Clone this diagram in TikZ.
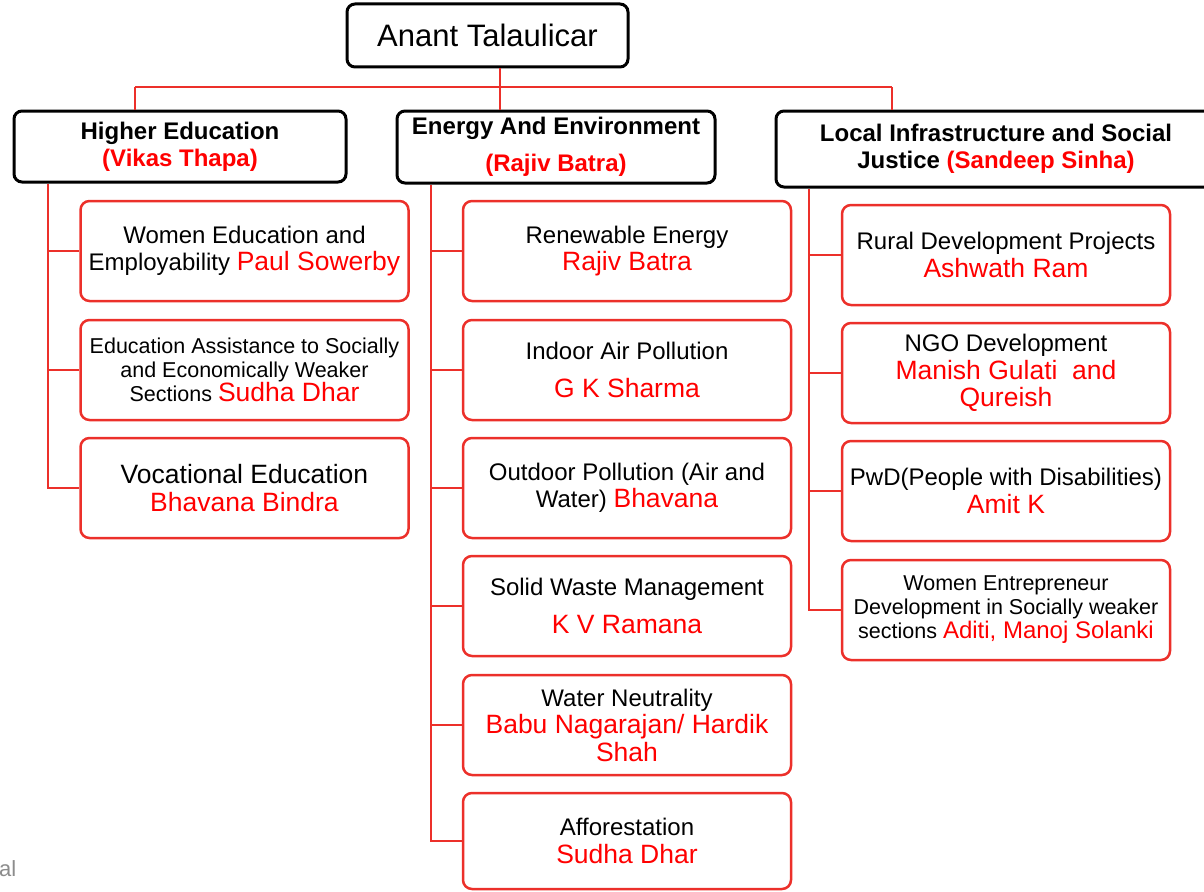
\documentclass[tikz,border=0pt]{standalone}
\usepackage{fontspec}
\setmainfont{Liberation Sans}
\definecolor{lred}{RGB}{236,48,42}
\definecolor{tred}{RGB}{255,0,0}
\definecolor{cutgray}{RGB}{140,140,140}
\newcommand{\nm}{\color{tred}\fontsize{26.5}{27.5}\selectfont}
\newcommand{\nms}{\color{tred}\fontsize{24}{24}\selectfont}
\begin{document}
\begin{tikzpicture}[x=1pt,y=-1pt,
  child/.style={draw=lred, line width=2.5pt, rounded corners=9pt, minimum width=328pt, minimum height=100pt, align=center, inner sep=0pt, font=\fontsize{24}{27.5}\selectfont},
  smallchild/.style={child, font=\fontsize{21.5}{24}\selectfont},
  head/.style={draw=black, line width=3pt, rounded corners=8pt, align=center, inner sep=0pt, font=\bfseries\fontsize{24}{27}\selectfont},
  link/.style={draw=lred, line width=2.5pt},
  toplink/.style={draw=lred, line width=2pt}]
\clip (0,0) rectangle (1204,891);
% top level
\node[head, font=\fontsize{31}{31}\selectfont, minimum width=281pt, minimum height=63pt] (top) at (487.5,35.5) {Anant Talaulicar};
\node[head, minimum width=332pt, minimum height=71pt] (he) at (180,146.5) {Higher Education\\{\color{tred}(Vikas Thapa)}};
\node[head, minimum width=318pt, minimum height=72pt] (ee) at (556,147) {Energy And Environment\\[10pt]{\color{tred}(Rajiv Batra)}};
\node[head, minimum width=440pt, minimum height=76pt] (li) at (996,149) {Local Infrastructure and Social\\Justice {\color{tred}(Sandeep Sinha)}};
% connectors top
\coordinate (j) at (500,87);
\coordinate (jl) at (135,87);
\coordinate (jr) at (892,87);
\draw[toplink] (top.south -| j) -- (j);
\draw[toplink] (jl) -- (jr);
\draw[toplink] (jl) -- (jl |- he.north);
\draw[toplink] (j) -- (j |- ee.north);
\draw[toplink] (jr) -- (jr |- li.north);
% Higher Education column
\node[child] (h1) at (244.5,251) {Women Education and\\Employability {\nm Paul Sowerby}};
\node[smallchild] (h2) at (244.5,370) {Education Assistance to Socially\\and Economically Weaker\\Sections {\nm Sudha Dhar}};
\node[child, font=\fontsize{26.5}{28}\selectfont] (h3) at (244.5,488) {Vocational Education\\{\nm Bhavana Bindra}};
% Energy column
\node[child] (e1) at (627,251) {Renewable Energy\\{\nm Rajiv Batra}};
\node[child] (e2) at (627,370) {Indoor Air Pollution\\[11pt]{\nm G K Sharma}};
\node[child] (e3) at (627,488) {Outdoor Pollution (Air and\\Water) {\nm Bhavana}};
\node[child] (e4) at (627,606) {Solid Waste Management\\[10pt]{\nm K V Ramana}};
\node[child] (e5) at (627,725) {Water Neutrality\\{\nm Babu Nagarajan/ Hardik}\\{\nm Shah}};
\node[child, minimum height=96pt] (e6) at (627,841) {Afforestation\\{\nm Sudha Dhar}};
% Local Infrastructure column
\node[child] (l1) at (1006,255) {Rural Development Projects\\{\nm Ashwath Ram}};
\node[child] (l2) at (1006,373) {NGO Development\\{\nm Manish Gulati\ \ and}\\{\nm Qureish}};
\node[child] (l3) at (1006,491) {PwD(People with Disabilities)\\{\nm Amit K}};
\node[smallchild] (l4) at (1006,610) {Women Entrepreneur\\Development in Socially weaker\\sections {\nms Aditi, Manoj Solanki}};
% spines
\coordinate (sh) at (48,0);
\coordinate (se) at (431,0);
\coordinate (sl) at (809,0);
\draw[link] (sh |- he.south) |- (h3.west);
\draw[link] (sh |- h1.west) -- (h1.west);
\draw[link] (sh |- h2.west) -- (h2.west);
\draw[link] (se |- ee.south) |- (e6.west);
\foreach \n in {e1,e2,e3,e4,e5} \draw[link] (se |- \n.west) -- (\n.west);
\draw[link] (sl |- li.south) |- (l4.west);
\foreach \n in {l1,l2,l3} \draw[link] (sl |- \n.west) -- (\n.west);
% cut-off text
\node[anchor=base west, inner sep=0pt, text=cutgray, font=\fontsize{22}{22}\selectfont] (cut) at (-1,876) {al};
\end{tikzpicture}
\end{document}
